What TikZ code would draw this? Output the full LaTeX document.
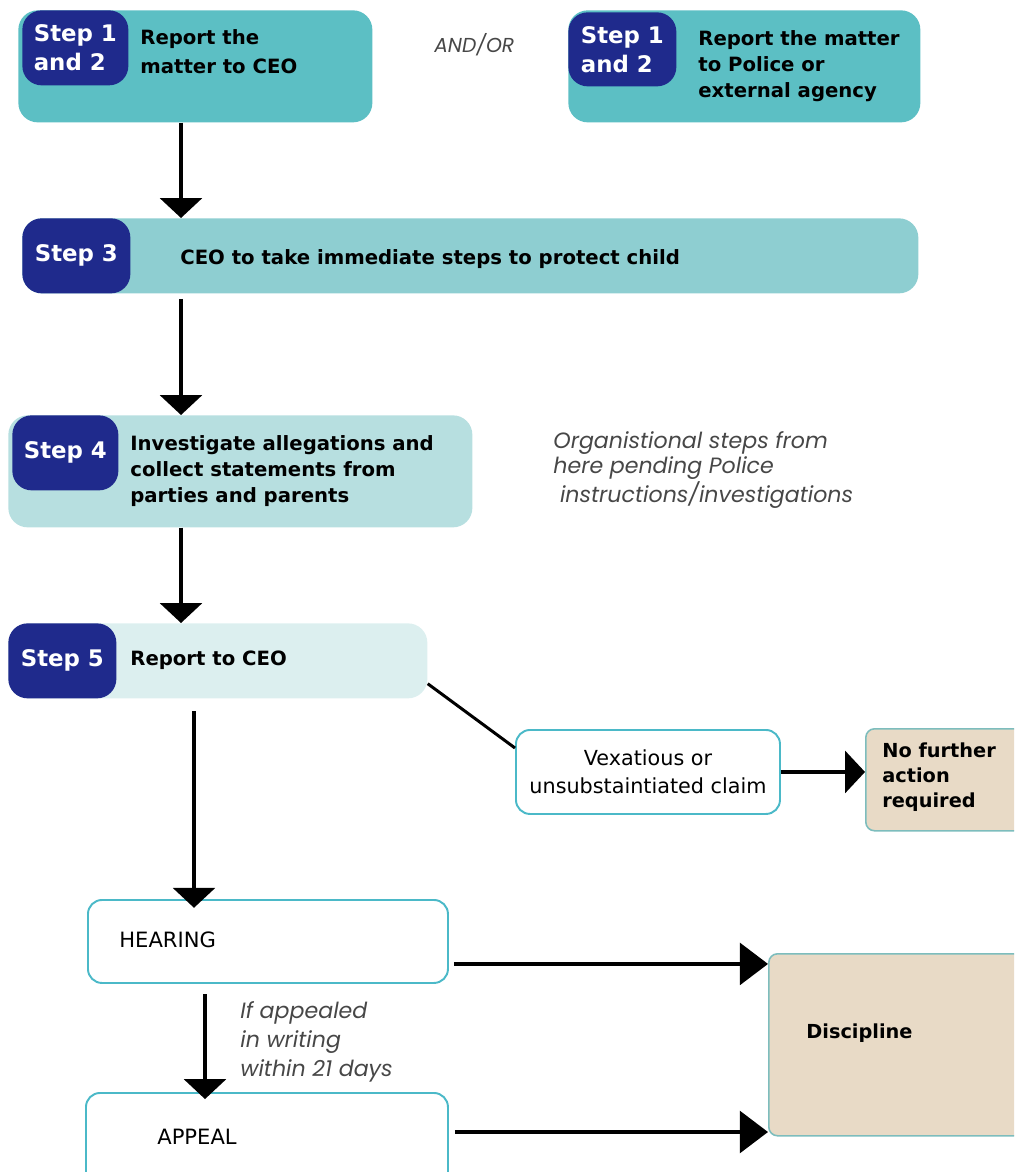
\documentclass[tikz,border=0pt]{standalone}
\usepackage{fontspec}
\setmainfont{DejaVu Sans}
\newfontfamily\notefont{Poppins}
\usetikzlibrary{arrows.meta,calc}

\definecolor{tealA}{HTML}{5CBFC4}
\definecolor{tealB}{HTML}{8ECED1}
\definecolor{tealC}{HTML}{B7DFE0}
\definecolor{tealD}{HTML}{DCEFEF}
\definecolor{tabnavy}{HTML}{1F2A8C}
\definecolor{rim}{HTML}{4BB9C8}
\definecolor{tanfill}{HTML}{E8DAC6}
\definecolor{tanrim}{HTML}{7DBDBD}
\definecolor{notegray}{HTML}{474747}

\tikzset{
  sz/.style 2 args={minimum width=#1*0.02cm, minimum height=#2*0.02cm},
  stepbox/.style={anchor=north west, inner sep=0pt, rounded corners=11pt},
  steptab/.style={anchor=north west, inner sep=0pt, fill=tabnavy, rounded corners=11pt,
    text=white, align=left, font=\bfseries\fontsize{13}{16.5}\selectfont},
  steptext/.style={anchor=west, inner sep=0pt, align=left,
    font=\bfseries\fontsize{11.2}{16.4}\selectfont},
  outcome/.style={anchor=north west, inner sep=0pt, draw=rim, line width=1.1pt,
    fill=white, rounded corners=8pt},
  result/.style={anchor=north west, inner sep=0pt, draw=tanrim, line width=0.9pt,
    fill=tanfill, rounded corners=5pt},
  plaintext/.style={anchor=west, inner sep=0pt, font=\fontsize{12}{14}\selectfont},
  note/.style={anchor=west, inner sep=0pt, align=left, text=notegray,
    font=\notefont\itshape\fontsize{12.6}{14.2}\selectfont},
  flow/.style={line width=1.8pt, -{Triangle[width=23.8pt,length=11.3pt]}},
  flowlong/.style={line width=1.8pt, -{Triangle[width=23.8pt,length=16pt]}},
  link/.style={line width=1.7pt},
}

\begin{document}
\begin{tikzpicture}[x=0.02cm,y=-0.02cm]
    \useasboundingbox (0,0) rectangle (1014,1172);
    \clip (0,0) rectangle (1014,1172);

    % Step 1 and 2 boxes
    \node[stepbox, fill=tealA, sz={354}{112}] (rep) at (18,10) {};
    \node[steptab, sz={106}{75}] (reptab) at (22,10) {Step 1\\and 2};
    \node[steptext] (reptext) at (140,52) {Report the\\matter to CEO};
    \node[note, font=\notefont\itshape\fontsize{11.5}{12}\selectfont] (andor) at (434,45) {AND/OR};
    \node[stepbox, fill=tealA, sz={352}{112}] (pol) at (568,10) {};
    \node[steptab, sz={108}{74}] (poltab) at (568,12) {Step 1\\and 2};
    \node[steptext, font=\bfseries\fontsize{11.2}{14.7}\selectfont] (poltext) at (698,66)
        {Report the matter\\to Police or\\external agency};

    % Step 3
    \node[stepbox, fill=tealB, sz={896}{75}] (s3) at (22,218) {};
    \node[steptab, sz={108}{75}] (s3tab) at (22,218) {Step 3};
    \node[steptext] (s3text) at (180,259) {CEO to take immediate steps to protect child};

    % Step 4
    \node[stepbox, fill=tealC, sz={464}{112}] (s4) at (8,415) {};
    \node[steptab, sz={106}{75}] (s4tab) at (12,415) {Step 4};
    \node[steptext, font=\bfseries\fontsize{11.2}{14.7}\selectfont] (s4text) at (130,471)
        {Investigate allegations and\\collect statements from\\parties and parents};
    \node[note] (police) at (553,470)
        {Organistional steps from\\here pending Police\\\hspace*{0.3em}instructions/investigations};

    % Step 5
    \node[stepbox, fill=tealD, sz={419}{75}] (s5) at (8,623) {};
    \node[steptab, sz={108}{75}] (s5tab) at (8,623) {Step 5};
    \node[steptext] (s5text) at (130,660) {Report to CEO};

    % Outcomes
    \node[outcome, sz={264}{84}, align=center, font=\fontsize{11.8}{15.9}\selectfont] (vex) at (515,729)
        {Vexatious or\\unsubstaintiated claim};
    \node[result, sz={200}{102}] (nfa) at (865,728) {};
    \node[steptext, font=\bfseries\fontsize{11}{14.2}\selectfont] (nfatext) at (882,777)
        {No further\\action\\required};
    \node[outcome, sz={360}{83}] (hear) at (87,899) {};
    \node[plaintext] (heartext) at (119,940) {HEARING};
    \node[outcome, sz={362}{100}] (app) at (85,1092) {};
    \node[plaintext] (apptext) at (157,1137) {APPEAL};
    \node[result, sz={300}{182}] (disc) at (768,953) {};
    \node[steptext, font=\bfseries\fontsize{11}{13}\selectfont] (disctext) at (806,1033) {Discipline};
    \node[note, font=\notefont\itshape\fontsize{12.6}{16.4}\selectfont] (appnote) at (240,1042)
        {If appealed\\in writing\\within 21 days};

    % Arrows down the left side
    \coordinate (spine) at (181,0);
    \coordinate (spine2) at (194,0);
    \coordinate (spine3) at (205,0);
    \draw[flow] (rep.south -| spine) -- (s3.north -| spine);
    \draw[flow, shorten <=3pt] (s3.south -| spine) -- (s4.north -| spine);
    \draw[flow] (s4.south -| spine) -- (s5.north -| spine);
    \draw[flow, shorten <=7pt, shorten >=-5pt] (s5.south -| spine2) -- (hear.north -| spine2);
    \draw[flow, shorten <=6pt, shorten >=-4pt] (hear.south -| spine3) -- (app.north -| spine3);

    % Arrows to the right
    \draw[link] ($(s5.south east)+(0,-15)$) -- ($(vex.north west)+(0,19)$);
    \draw[flow] (vex.east) -- (vex.east -| nfa.west);
    \coordinate (hout) at ($(hear.south east)+(5,-20)$);
    \draw[flowlong] (hout) -- (hout -| disc.west);
    \coordinate (aout) at ($(app.north east)+(6,40)$);
    \draw[flowlong] (aout) -- (aout -| disc.west);
\end{tikzpicture}
\end{document}
